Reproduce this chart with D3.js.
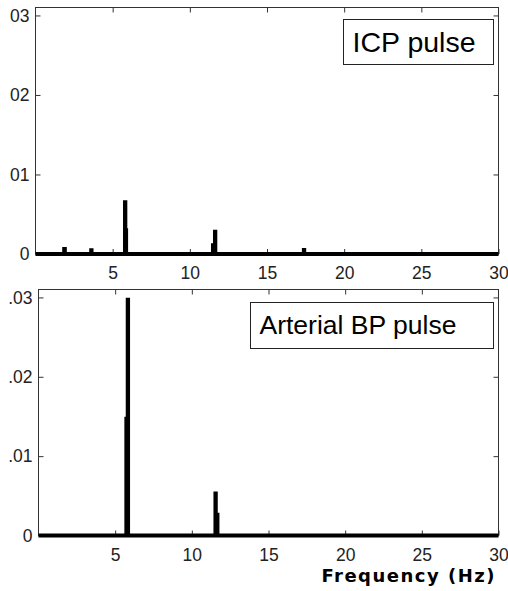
<!DOCTYPE html>
<html>
<head>
<meta charset="utf-8">
<script src="https://cdn.jsdelivr.net/npm/d3@7"></script>
<style>
  html, body { margin: 0; padding: 0; background: #fff; }
  svg { display: block; }
  .tick text { font-family: "Liberation Sans", Arial, sans-serif; font-size: 17.5px; fill: #222; }
  .tick line { stroke: #333; }
</style>
</head>
<body>
<main></main>
<script>
// data (stepped amplitude spectra, frequency in Hz)
const icpFreq = [0, 1.86, 1.9, 3.61, 3.63, 5.8, 5.82, 5.87, 11.5, 11.63, 11.65, 17.39, 17.41, 30]
const icpAmp  = [0, 0.00063, 0, 0.00046, 0, 0.0065, 0.003, 0, 0.0011, 0.0028, 0, 0.0005, 0, 0]

const bpFreq = [0, 5.73, 5.82, 5.84, 11.54, 11.56, 11.67, 30]
const bpAmp  = [0, 0.0147, 0.0297, 0, 0.0053, 0.0026, 0, 0]

const xTicks = [5, 10, 15, 20, 25, 30]
const yTicks = [0, 0.01, 0.02, 0.03]
const icpYLabels = ['0', '01', '02', '03']
const bpYLabels = ['0', '.01', '.02', '.03']

// sizes
const sizeOfSVG = { width: 508, height: 591 }

const svg = d3.select('main')
  .append('svg')
  .attr('width', sizeOfSVG.width)
  .attr('height', sizeOfSVG.height)

// one panel of the figure
const drawPanel = (cfg) => {
  const xScale = d3.scaleLinear().domain([0, 30]).range([cfg.left, cfg.right])
  const yScale = d3.scaleLinear().domain([0, 0.031]).range([cfg.bottom, cfg.top])

  const g = svg.append('g')

  // ticks on all four sides, pointing inwards
  const xAxis = d3.axisBottom(xScale).tickValues(xTicks).tickSizeInner(-5).tickSizeOuter(0).tickPadding(13)
  const xTop = d3.axisTop(xScale).tickValues(xTicks.slice(0, -1)).tickSizeInner(-5).tickSizeOuter(0).tickFormat('')
  const yAxis = d3.axisLeft(yScale).tickValues(yTicks).tickSizeInner(-5).tickSizeOuter(0).tickPadding(6)
    .tickFormat((d, i) => cfg.yLabels[i])
  const yRight = d3.axisRight(yScale).tickValues(yTicks).tickSizeInner(-5).tickSizeOuter(0).tickFormat('')

  g.append('g').attr('transform', `translate(0,${cfg.bottom})`).call(xAxis)
  g.append('g').attr('transform', `translate(0,${cfg.top})`).call(xTop)
  g.append('g').attr('transform', `translate(${cfg.left},0)`).call(yAxis)
  g.append('g').attr('transform', `translate(${cfg.right},0)`).call(yRight)
  g.selectAll('.domain').remove()

  // axes box
  g.append('rect')
    .attr('x', cfg.left)
    .attr('y', cfg.top)
    .attr('width', cfg.right - cfg.left)
    .attr('height', cfg.bottom - cfg.top)
    .attr('fill', 'none')
    .attr('stroke', '#333')
    .attr('stroke-width', 1)

  // spectrum
  const line = d3.line()
    .x(d => xScale(d[0]))
    .y(d => yScale(d[1]))
    .curve(d3.curveStepAfter)

  g.append('path')
    .datum(d3.zip(cfg.freq, cfg.amp))
    .attr('d', line)
    .attr('fill', 'none')
    .attr('stroke', '#000')
    .attr('stroke-width', 4)
    .attr('stroke-linejoin', 'miter')

  // legend box
  g.append('rect')
    .attr('x', cfg.legend.x)
    .attr('y', cfg.legend.y)
    .attr('width', cfg.legend.w)
    .attr('height', cfg.legend.h)
    .attr('fill', '#fff')
    .attr('stroke', '#222')
    .attr('stroke-width', 1)

  g.append('text')
    .attr('x', cfg.legend.x + 9)
    .attr('y', cfg.legend.y + cfg.legend.baseline)
    .style('font-family', '"Liberation Sans", Arial, sans-serif')
    .style('font-size', cfg.legend.size + 'px')
    .attr('fill', '#000')
    .text(cfg.label)
}

drawPanel({
  left: 35.5, right: 498.5, top: 7.5, bottom: 254,
  freq: icpFreq, amp: icpAmp, yLabels: icpYLabels,
  label: 'ICP pulse',
  legend: { x: 343.5, y: 19.5, w: 150, h: 45, baseline: 32.5, size: 28.5 }
})

drawPanel({
  left: 38.5, right: 498.5, top: 289.5, bottom: 535.5,
  freq: bpFreq, amp: bpAmp, yLabels: bpYLabels,
  label: 'Arterial BP pulse',
  legend: { x: 250.5, y: 302.5, w: 243, h: 46, baseline: 31, size: 26.5 }
})

// x axis title
svg.append('text')
  .attr('x', 496)
  .attr('y', 582)
  .attr('text-anchor', 'end')
  .style('font-family', '"DejaVu Sans", Verdana, sans-serif')
  .style('font-weight', 'bold')
  .style('font-size', '18px')
  .style('letter-spacing', '1.5px')
  .text('Frequency (Hz)')
</script>
</body>
</html>
